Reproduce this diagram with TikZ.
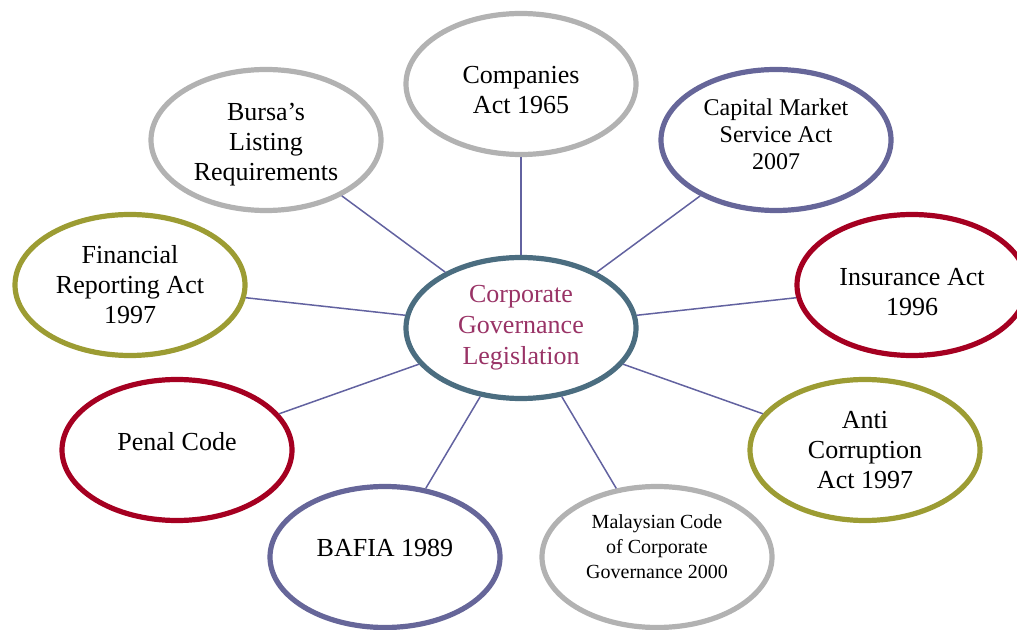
\documentclass[tikz,border=0pt]{standalone}
\usepackage{fontspec}
\setmainfont{Liberation Serif}
\usetikzlibrary{shapes}
\definecolor{lawgrey}{HTML}{B2B2B2}
\definecolor{lawblue}{HTML}{666699}
\definecolor{lawred}{HTML}{A50021}
\definecolor{lawolive}{HTML}{9C9C33}
\definecolor{hubteal}{HTML}{4B6D80}
\definecolor{hubtext}{HTML}{993366}
\definecolor{linkblue}{HTML}{6262A0}
\tikzstyle{line} = [draw, color=linkblue, line width=0.75pt]
\tikzstyle{law} = [draw, ellipse, line width=2.6pt, minimum width=115pt, minimum height=70.5pt, inner sep=0pt, align=center, font=\fontsize{13}{15}\selectfont]
\tikzstyle{hub} = [law, draw=hubteal, text=hubtext, font=\fontsize{13}{15.5}\selectfont]

\begin{document}
\begin{tikzpicture}[x=0.5pt, y=-0.5pt]
        \useasboundingbox (0,0) rectangle (1017,630);
        \node[hub] (cgl) at (521,328) {Corporate\\Governance\\Legislation};
        \node[law, draw=lawgrey] (companies) at (521,84) {\rule{0pt}{15pt}Companies\\Act 1965};
        \node[law, draw=lawblue, font=\fontsize{12}{13.5}\selectfont] (cmsa) at (776,140) {Capital Market\\Service Act\\2007\rule[-6pt]{0pt}{0pt}};
        \node[law, draw=lawred] (insurance) at (912,285) {\rule{0pt}{16pt}Insurance Act\\1996};
        \node[law, draw=lawolive] (anti) at (865,450) {Anti\\Corruption\\Act 1997};
        \node[law, draw=lawgrey, font=\fontsize{10}{12.5}\selectfont] (mccg) at (657,557) {Malaysian Code\\of Corporate\\Governance 2000\rule[-10pt]{0pt}{0pt}};
        \node[law, draw=lawblue, text depth=9pt] (bafia) at (385,557) {BAFIA 1989};
        \node[law, draw=lawred, text depth=9pt] (penal) at (177,450) {Penal Code};
        \node[law, draw=lawolive] (fra) at (130,285) {Financial\\Reporting Act\\1997};
        \node[law, draw=lawgrey] (bursa) at (266,140) {\rule{0pt}{13pt}Bursa’s\\Listing\\Requirements};
        \path[line] (cgl) -- (companies);
        \path[line] (cgl) -- (cmsa);
        \path[line] (cgl) -- (insurance);
        \path[line] (cgl) -- (anti);
        \path[line] (cgl) -- (mccg);
        \path[line] (cgl) -- (bafia);
        \path[line] (cgl) -- (penal);
        \path[line] (cgl) -- (fra);
        \path[line] (cgl) -- (bursa);
\end{tikzpicture}
\end{document}
